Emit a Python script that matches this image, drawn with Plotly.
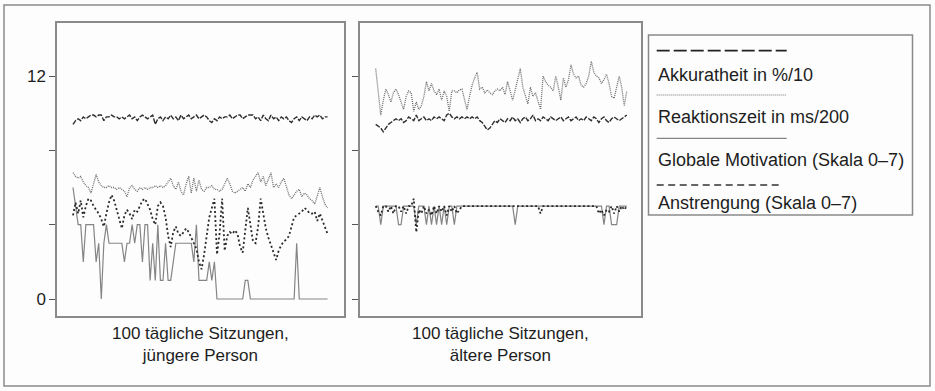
import plotly.graph_objects as go

W, H = 935, 391

sessions = list(range(1, 101))

# ---- younger person (left panel) ----
acc_young = [9.4, 9.6, 9.7, 9.6, 9.8, 9.7, 9.8, 9.9, 9.9, 9.8,
             9.9, 9.9, 9.6, 9.8, 9.8, 9.9, 9.8, 9.8, 9.7, 9.8,
             9.7, 9.8, 9.9, 9.7, 9.8, 9.6, 9.8, 9.9, 9.8, 9.7,
             9.8, 9.9, 9.4, 9.7, 9.8, 9.6, 9.8, 9.7, 9.9, 9.7,
             9.8, 9.6, 9.9, 9.7, 9.8, 9.9, 9.7, 9.8, 9.9, 9.7,
             9.8, 9.9, 9.8, 9.6, 9.5, 9.7, 9.6, 9.8, 9.7, 9.8,
             9.8, 9.9, 9.7, 9.8, 9.9, 9.9, 9.7, 9.8, 9.9, 9.9,
             9.9, 9.7, 9.8, 9.6, 9.9, 9.7, 9.6, 9.9, 9.7, 9.8,
             9.6, 9.8, 9.7, 9.8, 9.6, 9.5, 9.7, 9.8, 9.6, 9.8,
             9.7, 9.6, 9.8, 9.7, 9.9, 9.8, 9.9, 9.7, 9.8, 9.8]
rt_young = [6.8, 6.6, 6.5, 6.6, 6.3, 6.1, 6.0, 5.7, 6.2, 6.7,
            6.3, 6.1, 6.0, 6.0, 6.1, 6.0, 6.0, 5.9, 6.0, 5.9,
            5.8, 5.5, 6.0, 6.1, 5.9, 5.8, 6.0, 5.9, 6.0, 5.9,
            6.0, 6.0, 6.1, 6.0, 6.1, 6.0, 6.1, 6.3, 6.5, 6.1,
            5.9, 6.3, 5.8, 5.6, 6.2, 6.6, 5.7, 6.5, 5.8, 6.4,
            5.9, 5.8, 6.0, 6.0, 6.1, 5.9, 5.9, 5.8, 5.9, 6.2,
            6.5, 6.2, 5.8, 5.7, 5.8, 5.9, 6.0, 5.8, 6.2, 6.0,
            6.4, 6.6, 6.8, 6.3, 6.6, 6.1, 6.5, 6.8, 6.0, 6.2,
            6.0, 6.3, 6.5, 6.0, 5.6, 5.4, 5.6, 5.8, 5.9, 5.5,
            5.7, 5.6, 5.4, 5.3, 5.1, 5.5, 6.0, 5.5, 5.1, 4.9]
mot_young = [6, 5, 4, 4, 2, 4, 4, 4, 4, 2,
             3, 0, 3, 4, 3, 3, 3, 3, 3, 3,
             2, 3, 3, 4, 3, 4, 4, 2, 4, 4,
             1, 3, 1, 4, 1, 1, 3, 1, 1, 2,
             3, 3, 3, 3, 3, 3, 3, 2, 4, 1,
             1, 1, 1, 2, 1, 2, 0, 0, 0, 0,
             0, 0, 0, 0, 0, 0, 0, 1, 1, 0,
             0, 0, 0, 0, 0, 0, 0, 0, 0, 0,
             0, 0, 0, 0, 0, 0, 0, 3, 0, 0,
             0, 0, 0, 0, 0, 0, 0, 0, 0, 0]
eff_young = [4.5, 5.2, 4.6, 5.3, 4.4, 5.0, 5.4, 5.3, 5.0, 4.8,
             4.6, 4.3, 3.9, 4.6, 5.2, 5.6, 5.3, 4.8, 4.3, 3.8,
             4.5, 4.8, 4.6, 4.3, 4.8, 4.7, 5.0, 5.3, 5.4, 5.1,
             4.8, 4.3, 4.0, 5.0, 5.2, 5.0, 4.4, 3.4, 2.8, 3.6,
             3.9, 3.5, 3.4, 3.6, 3.8, 3.6, 3.3, 3.0, 2.7, 2.0,
             1.6, 2.4, 3.3, 4.4, 4.9, 5.4, 2.4, 3.5, 5.4, 2.6,
             3.4, 3.6, 3.5, 3.7, 3.5, 2.8, 2.5, 3.8, 4.9, 4.0,
             3.1, 3.0, 3.9, 5.4, 4.6, 3.8, 3.3, 2.9, 2.4, 2.1,
             2.6, 2.9, 3.1, 3.2, 3.4, 3.9, 4.4, 4.5, 4.6, 4.7,
             4.9, 4.8, 4.6, 4.6, 4.7, 4.2, 4.6, 4.2, 3.9, 3.5]

# ---- older person (right panel) ----
acc_old = [9.4, 9.3, 9.2, 9.0, 9.2, 9.4, 9.5, 9.6, 9.7, 9.6,
           9.7, 9.5, 9.6, 9.8, 9.7, 9.6, 9.9, 9.6, 9.7, 9.8,
           9.6, 9.7, 9.6, 9.8, 9.7, 9.8, 9.7, 9.6, 9.9, 10.0,
           9.8, 9.7, 9.8, 9.7, 9.8, 9.7, 9.8, 9.7, 9.8, 9.7,
           9.8, 9.6, 9.5, 9.3, 9.1, 9.2, 9.4, 9.6, 9.5, 9.7,
           9.6, 9.5, 9.7, 9.6, 9.8, 9.6, 9.7, 9.5, 9.7, 9.8,
           9.6, 9.7, 9.9, 9.6, 9.7, 9.6, 9.8, 9.7, 9.6, 9.8,
           9.7, 9.6, 9.7, 9.8, 9.6, 9.7, 9.8, 9.6, 9.7, 9.8,
           9.6, 9.7, 9.6, 9.8, 9.7, 9.6, 9.8, 9.7, 9.5, 9.7,
           9.8, 9.6, 9.5, 9.7, 9.8, 9.7, 9.6, 9.7, 9.8, 9.9]
rt_old = [12.4, 11.0, 9.9, 10.7, 11.3, 11.0, 10.6, 11.1, 11.3, 11.0,
          10.6, 10.2, 10.9, 11.2, 11.1, 10.1, 10.6, 10.2, 10.4, 10.9,
          11.7, 11.2, 11.6, 11.2, 11.0, 11.3, 10.7, 11.2, 10.9, 10.1,
          11.2, 11.2, 11.1, 11.25, 11.3, 10.8, 10.2, 10.9, 11.5, 11.9,
          12.2, 11.3, 11.4, 11.1, 11.25, 11.1, 11.0, 11.2, 11.3, 11.2,
          11.4, 11.0, 11.7, 11.2, 10.7, 11.25, 11.8, 12.4, 11.4, 10.9,
          10.5, 11.4, 10.9, 11.1, 10.7, 10.2, 12.0, 11.7, 11.5, 11.4,
          11.2, 12.0, 11.4, 10.7, 11.9, 11.4, 11.8, 12.6, 12.1, 11.9,
          12.0, 11.5, 11.4, 11.6, 12.0, 12.8, 12.2, 12.0, 11.9, 11.6,
          11.8, 12.1, 11.6, 10.9, 10.8, 11.5, 12.0, 11.4, 10.4, 11.2]
mot_old = [5, 5, 4, 5, 5, 5, 5, 5, 5, 4,
           4, 5, 5, 5, 5, 5, 4, 5, 5, 5,
           4, 5, 4, 5, 4, 5, 4, 5, 4, 5,
           5, 4, 5, 5, 5, 5, 5, 5, 5, 5,
           5, 5, 5, 5, 5, 5, 5, 5, 5, 5,
           5, 5, 5, 5, 5, 4, 5, 5, 5, 5,
           5, 5, 5, 5, 5, 5, 5, 5, 5, 5,
           5, 5, 5, 5, 5, 5, 5, 5, 5, 5,
           5, 5, 5, 5, 5, 5, 5, 5, 5, 5,
           4, 5, 5, 4, 4, 4, 5, 5, 5, 5]
eff_old = [5.0, 4.7, 4.5, 5.0, 5.0, 4.7, 5.0, 4.6, 5.0, 5.0,
           4.7, 5.0, 4.6, 5.0, 5.0, 5.4, 3.6, 4.8, 4.6, 5.0,
           4.6, 4.8, 4.5, 5.0, 4.6, 5.0, 4.7, 5.0, 4.5, 5.0,
           4.7, 5.0, 4.6, 4.8, 5.0, 5.0, 5.0, 5.0, 5.0, 5.0,
           5.0, 5.0, 5.0, 5.0, 5.0, 5.0, 5.0, 5.0, 5.0, 5.0,
           5.0, 5.0, 5.0, 5.0, 5.0, 5.0, 5.0, 5.0, 5.0, 5.0,
           5.0, 5.0, 5.0, 5.0, 5.0, 4.6, 5.0, 5.0, 5.0, 5.0,
           5.0, 5.0, 5.0, 5.0, 5.0, 5.0, 5.0, 5.0, 5.0, 5.0,
           5.0, 5.0, 5.0, 5.0, 5.0, 5.0, 5.0, 5.0, 4.6, 4.8,
           4.5, 4.8, 4.7, 5.0, 4.6, 5.0, 4.7, 5.0, 4.8, 5.0]

series_names = ["Akkuratheit in %/10", "Reaktionszeit in ms/200",
                "Globale Motivation (Skala 0–7)", "Anstrengung (Skala 0–7)"]
panel_labels = ["100 tägliche Sitzungen,<br>jüngere Person",
                "100 tägliche Sitzungen,<br>ältere Person"]
ytick_vals = [0, 4, 8, 12]
ytick_text = ["0", "", "", "12"]

FONT = "Liberation Sans, Arial, Helvetica, sans-serif"
TXT = "#1e1e1e"
FRAME = "#8a8a8a"

styles = {
    "acc": dict(color="#2e2e2e", width=1.4, dash="5px,1.5px"),
    "rt": dict(color="#6e6e6e", width=1.3, dash="1px,1px"),
    "mot": dict(color="#858585", width=1.2, dash="solid"),
    "eff": dict(color="#2a2a2a", width=1.8, dash="2px,2.5px"),
}

def px_x(p):
    return p / W

def px_y(p):
    return 1 - p / H

fig = go.Figure()

panels = [
    ("x", "y", mot_young, eff_young, rt_young, acc_young),
    ("x2", "y2", mot_old, eff_old, rt_old, acc_old),
]
for xa, ya, mot, eff, rt, acc in panels:
    for key, vals, name in [("mot", mot, series_names[2]), ("eff", eff, series_names[3]),
                            ("rt", rt, series_names[1]), ("acc", acc, series_names[0])]:
        fig.add_trace(go.Scatter(x=sessions, y=vals, mode="lines", name=name,
                                 line=styles[key], xaxis=xa, yaxis=ya,
                                 showlegend=False, hoverinfo="skip"))

ydom = [px_y(316), px_y(23)]
yrange = [-0.915, 14.855]
common_x = dict(showline=True, mirror=True, linecolor=FRAME, linewidth=1.5,
                showticklabels=False, ticks="", showgrid=False, zeroline=False,
                automargin=False)
common_y = dict(showline=True, mirror=True, linecolor=FRAME, linewidth=1.5,
                tickvals=ytick_vals, ticktext=ytick_text, ticks="outside",
                ticklen=6, tickwidth=1.2, tickcolor="#555", showgrid=False,
                zeroline=False, range=yrange, domain=ydom, automargin=False,
                tickfont=dict(family=FONT, size=17, color=TXT))

fig.update_layout(
    width=W, height=H, margin=dict(l=0, r=0, t=0, b=0),
    paper_bgcolor="#fdfdfd", plot_bgcolor="#fdfdfd",
    xaxis=dict(domain=[px_x(57), px_x(344)], range=[-5.22, 106.4], anchor="y", **common_x),
    xaxis2=dict(domain=[px_x(360), px_x(641)], range=[-5.19, 105.6], anchor="y2", **common_x),
    yaxis=dict(anchor="x", showticklabels=True, **common_y),
    yaxis2=dict(anchor="x2", **{**common_y, "showticklabels": False}),
)

shapes = []
# outer frame
shapes.append(dict(type="rect", xref="paper", yref="paper",
                   x0=px_x(4), x1=px_x(930), y0=px_y(386), y1=px_y(5),
                   line=dict(color=FRAME, width=1.5)))
# legend box
shapes.append(dict(type="rect", xref="paper", yref="paper",
                   x0=px_x(648.5), x1=px_x(912.5), y0=px_y(215), y1=px_y(35),
                   line=dict(color=FRAME, width=1.5)))
# legend sample lines
legend_lines = [
    (50.7, 786.7, dict(color="#222", width=1.8, dash="13px,4px")),
    (95, 786.7, dict(color="#6e6e6e", width=1.2, dash="1px,1px")),
    (138.3, 786.7, dict(color="#858585", width=1.2)),
    (185, 782, dict(color="#333", width=1.6, dash="7px,4.5px")),
]
for yy, xend, ln in legend_lines:
    shapes.append(dict(type="line", xref="paper", yref="paper",
                       x0=px_x(656.7), x1=px_x(xend), y0=px_y(yy), y1=px_y(yy), line=ln))
fig.update_layout(shapes=shapes)

annotations = []
for yy, name in zip([75, 117.3, 160, 203.3], series_names):
    annotations.append(dict(xref="paper", yref="paper", x=px_x(656), y=px_y(yy),
                            text=name, showarrow=False, xanchor="left", yanchor="middle",
                            font=dict(family=FONT, size=18, color=TXT)))
for cx, lab in zip([200.5, 500.5], panel_labels):
    annotations.append(dict(xref="paper", yref="paper", x=px_x(cx), y=px_y(344.5),
                            text=lab, showarrow=False, xanchor="center", yanchor="middle",
                            align="center", font=dict(family=FONT, size=17, color=TXT)))
fig.update_layout(annotations=annotations)

fig.write_html("out.html", config={"displayModeBar": False},
               post_script="document.body.style.margin='0';document.body.style.overflow='hidden';")
